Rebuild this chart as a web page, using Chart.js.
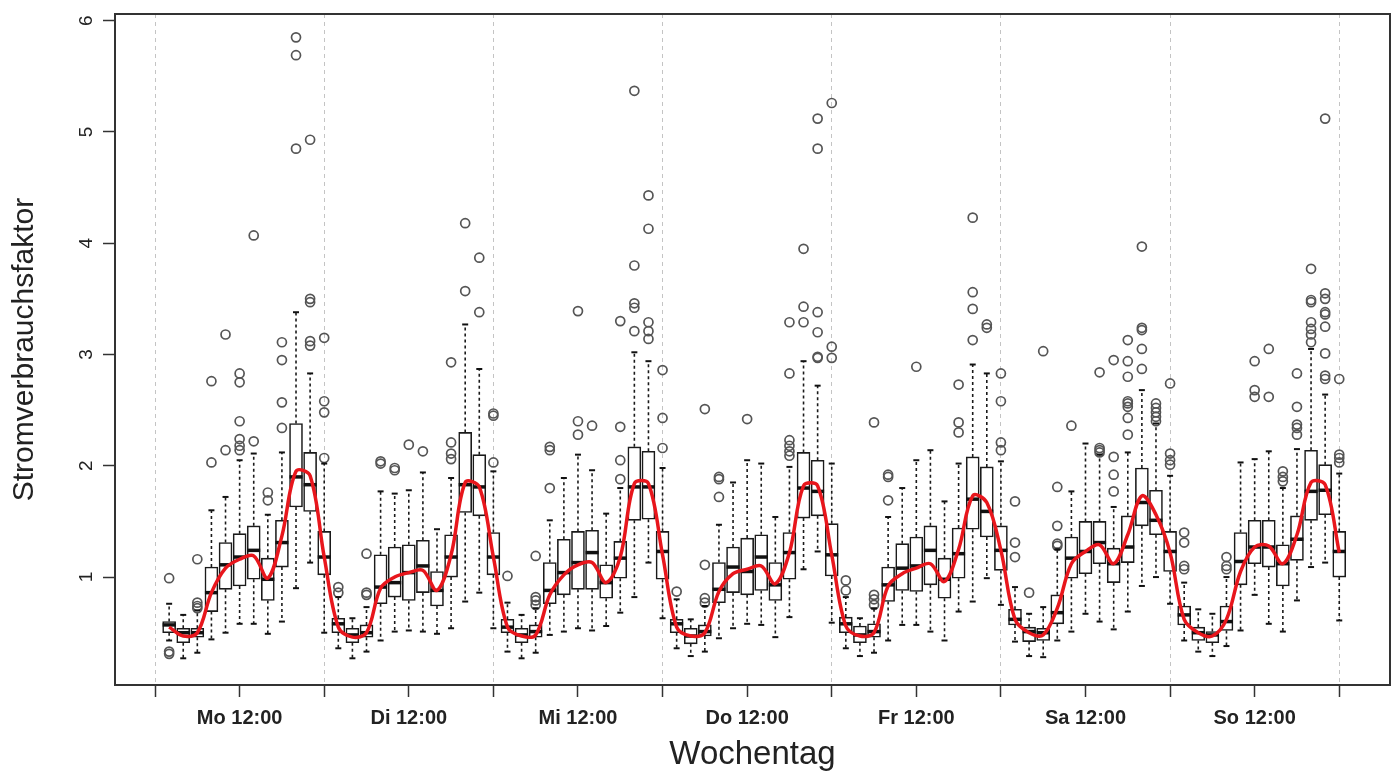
<!DOCTYPE html>
<html>
<head>
<meta charset="utf-8">
<title>Stromverbrauchsfaktor nach Wochentag</title>
<script src="https://cdn.jsdelivr.net/npm/chart.js@4.4.1/dist/chart.umd.min.js"></script>
<style>
  html, body { margin: 0; padding: 0; background: #fff; }
  #wrap { width: 1400px; height: 775px; }
</style>
</head>
<body>
<div id="wrap"><canvas id="boxChart" width="1400" height="775"></canvas></div>
<script>
// days of the week, 12 two-hour slots per day
const dayNames = ['Mo', 'Di', 'Mi', 'Do', 'Fr', 'Sa', 'So'];
const slotHours = [2, 4, 6, 8, 10, 12, 14, 16, 18, 20, 22, 24];
const xTickValues = [0, 12, 24, 36, 48, 60, 72, 84, 96, 108, 120, 132, 144, 156, 168];
const noonLabels = ['Mo 12:00', 'Di 12:00', 'Mi 12:00', 'Do 12:00', 'Fr 12:00', 'Sa 12:00', 'So 12:00'];
const yTickValues = [1, 2, 3, 4, 5, 6];

// one row per day, one value per slot
const lowerWhisker = [
    [0.43, 0.27, 0.32, 0.44, 0.50, 0.58, 0.58, 0.49, 0.60, 0.90, 1.13, 0.50],
    [0.36, 0.27, 0.33, 0.43, 0.51, 0.52, 0.51, 0.49, 0.54, 0.78, 0.86, 0.54],
    [0.33, 0.27, 0.32, 0.48, 0.51, 0.54, 0.52, 0.56, 0.68, 0.82, 1.13, 0.63],
    [0.36, 0.29, 0.33, 0.45, 0.54, 0.58, 0.57, 0.46, 0.64, 1.07, 1.23, 0.59],
    [0.36, 0.29, 0.32, 0.43, 0.57, 0.57, 0.51, 0.43, 0.69, 0.78, 0.99, 0.75],
    [0.42, 0.29, 0.28, 0.43, 0.51, 0.67, 0.60, 0.53, 0.69, 0.92, 1.00, 0.76],
    [0.43, 0.33, 0.29, 0.38, 0.52, 0.84, 0.58, 0.51, 0.79, 1.09, 1.13, 0.61]
];
const quartile1 = [
    [0.50, 0.41, 0.46, 0.69, 0.89, 0.92, 0.98, 0.79, 1.09, 1.63, 1.59, 1.02],
    [0.50, 0.41, 0.46, 0.76, 0.82, 0.79, 0.86, 0.74, 1.00, 1.58, 1.55, 1.02],
    [0.50, 0.41, 0.46, 0.76, 0.84, 0.89, 0.89, 0.81, 0.99, 1.51, 1.52, 0.98],
    [0.50, 0.40, 0.47, 0.77, 0.86, 0.84, 0.88, 0.79, 0.98, 1.53, 1.55, 1.01],
    [0.50, 0.41, 0.46, 0.78, 0.88, 0.87, 0.93, 0.81, 0.99, 1.43, 1.36, 1.06],
    [0.57, 0.42, 0.43, 0.58, 0.99, 1.03, 1.12, 0.95, 1.13, 1.46, 1.38, 1.05],
    [0.57, 0.43, 0.41, 0.52, 0.93, 1.12, 1.09, 0.92, 1.15, 1.51, 1.56, 1.00]
];
const medians = [
    [0.57, 0.50, 0.50, 0.86, 1.11, 1.18, 1.24, 0.98, 1.31, 1.90, 1.83, 1.18],
    [0.58, 0.48, 0.50, 0.91, 0.95, 1.04, 1.10, 0.88, 1.18, 1.83, 1.81, 1.18],
    [0.55, 0.48, 0.51, 0.88, 1.04, 1.13, 1.22, 0.95, 1.17, 1.81, 1.81, 1.23],
    [0.58, 0.47, 0.51, 0.89, 1.09, 1.05, 1.18, 0.93, 1.22, 1.80, 1.77, 1.20],
    [0.58, 0.48, 0.51, 0.93, 1.08, 1.10, 1.24, 0.98, 1.21, 1.70, 1.59, 1.24],
    [0.62, 0.51, 0.50, 0.68, 1.17, 1.23, 1.31, 1.12, 1.27, 1.67, 1.51, 1.23],
    [0.66, 0.50, 0.48, 0.60, 1.14, 1.27, 1.27, 1.12, 1.34, 1.77, 1.78, 1.23]
];
const quartile3 = [
    [0.60, 0.54, 0.54, 1.09, 1.31, 1.39, 1.46, 1.17, 1.51, 2.38, 2.12, 1.41],
    [0.63, 0.54, 0.57, 1.20, 1.27, 1.29, 1.33, 1.05, 1.38, 2.30, 2.10, 1.40],
    [0.62, 0.54, 0.57, 1.13, 1.34, 1.41, 1.42, 1.11, 1.32, 2.17, 2.13, 1.41],
    [0.62, 0.54, 0.57, 1.13, 1.27, 1.35, 1.38, 1.13, 1.40, 2.12, 2.05, 1.48],
    [0.64, 0.56, 0.58, 1.09, 1.30, 1.36, 1.46, 1.17, 1.44, 2.08, 1.99, 1.46],
    [0.71, 0.55, 0.54, 0.84, 1.36, 1.50, 1.50, 1.26, 1.55, 1.98, 1.78, 1.41],
    [0.74, 0.55, 0.51, 0.74, 1.40, 1.51, 1.51, 1.29, 1.55, 2.14, 2.01, 1.41]
];
const upperWhisker = [
    [0.76, 0.66, 0.70, 1.60, 1.72, 2.05, 2.11, 1.56, 2.12, 3.38, 2.83, 2.02],
    [0.82, 0.63, 0.73, 1.77, 1.75, 1.78, 1.94, 1.43, 1.89, 3.27, 2.87, 1.95],
    [0.77, 0.66, 0.72, 1.51, 1.89, 2.10, 1.96, 1.57, 1.80, 3.02, 2.94, 1.98],
    [0.80, 0.62, 0.74, 1.47, 1.85, 2.05, 2.02, 1.54, 1.99, 2.94, 2.72, 2.02],
    [0.82, 0.63, 0.72, 1.54, 1.80, 2.05, 2.14, 1.68, 2.02, 2.91, 2.83, 2.04],
    [0.91, 0.67, 0.73, 1.25, 1.77, 2.20, 2.10, 1.63, 2.12, 2.68, 2.38, 1.91],
    [0.95, 0.71, 0.67, 1.00, 2.03, 2.06, 2.13, 1.80, 2.15, 3.05, 2.64, 1.93]
];
// red smoothed mean curve
const meanLine = [
    [0.55, 0.47, 0.50, 0.86, 1.08, 1.16, 1.19, 0.99, 1.37, 1.95, 1.91, 1.18],
    [0.55, 0.46, 0.50, 0.90, 1.00, 1.04, 1.06, 0.88, 1.20, 1.85, 1.81, 1.18],
    [0.55, 0.47, 0.48, 0.84, 1.02, 1.11, 1.13, 0.95, 1.18, 1.84, 1.84, 1.20],
    [0.55, 0.47, 0.50, 0.87, 1.03, 1.07, 1.10, 0.94, 1.22, 1.82, 1.82, 1.20],
    [0.56, 0.47, 0.50, 0.92, 1.03, 1.08, 1.12, 0.96, 1.25, 1.73, 1.67, 1.24],
    [0.62, 0.50, 0.48, 0.72, 1.12, 1.23, 1.29, 1.12, 1.38, 1.73, 1.56, 1.22],
    [0.62, 0.50, 0.47, 0.62, 1.05, 1.27, 1.28, 1.12, 1.38, 1.85, 1.83, 1.22]
];
const outliers = [
    [[0.99, 0.33, 0.31], [], [0.72, 0.74, 0.77, 1.16], [2.03, 2.76], [2.14, 3.18],
     [2.14, 2.18, 2.24, 2.40, 2.75, 2.83], [2.22, 4.07], [1.69, 1.76], [2.34, 2.57, 2.95, 3.11],
     [4.85, 5.69, 5.85], [3.08, 3.12, 3.47, 3.50, 4.93], [2.07, 2.48, 2.58, 3.15]],
    [[0.86, 0.91], [], [0.84, 0.86, 1.21], [2.02, 2.04], [1.96, 1.98], [2.19], [2.13], [],
     [2.06, 2.11, 2.21, 2.93], [3.57, 4.18], [3.38, 3.87], [2.03, 2.45, 2.47]],
    [[1.01], [], [0.75, 0.79, 0.82, 1.19], [1.80, 2.14, 2.17], [], [2.28, 2.40, 3.39], [2.36], [],
     [1.88, 2.05, 2.35, 3.30], [3.21, 3.42, 3.46, 3.80, 5.37], [3.14, 3.21, 3.29, 4.13, 4.43],
     [2.16, 2.43, 2.86]],
    [[0.87], [], [0.77, 0.81, 1.11, 2.51], [1.72, 1.88, 1.90], [], [2.42], [], [],
     [2.09, 2.13, 2.18, 2.23, 2.83, 3.29], [3.29, 3.43, 3.95], [2.97, 2.98, 3.20, 3.38, 4.85, 5.12],
     [2.97, 3.07, 5.26]],
    [[0.88, 0.97], [], [0.75, 0.80, 0.84, 2.39], [1.69, 1.90, 1.92], [], [2.89], [], [],
     [2.30, 2.39, 2.73], [3.13, 3.41, 3.56, 4.23], [3.24, 3.27], [2.14, 2.21, 2.58, 2.83]],
    [[1.18, 1.31, 1.68], [0.86], [3.03], [1.28, 1.30, 1.46, 1.81], [2.36], [],
     [2.12, 2.14, 2.16, 2.84], [1.77, 1.92, 2.08, 2.95], [2.28, 2.43, 2.53, 2.56, 2.58, 2.80, 2.94, 3.13],
     [2.87, 3.05, 3.22, 3.24, 3.97], [2.40, 2.44, 2.48, 2.52, 2.56], [2.01, 2.05, 2.11, 2.74]],
    [[1.07, 1.10, 1.31, 1.40], [], [], [1.07, 1.10, 1.18], [], [2.62, 2.68, 2.94], [2.62, 3.05],
     [1.86, 1.90, 1.95], [2.28, 2.34, 2.37, 2.53, 2.83], [3.11, 3.18, 3.23, 3.29, 3.47, 3.49, 3.77],
     [2.78, 2.81, 3.01, 3.25, 3.36, 3.38, 3.50, 3.55, 5.12], [2.03, 2.07, 2.10, 2.78]]
];

document.addEventListener('DOMContentLoaded', function() {
    Chart.defaults.font.family = "'Liberation Sans', Arial, sans-serif";
    Chart.defaults.color = '#222';

    // x position (hours since Monday 00:00) of every box
    const positions = [];
    dayNames.forEach((d, di) => slotHours.forEach(h => positions.push(di * 24 + h)));

    const low = lowerWhisker.flat();
    const q1 = quartile1.flat();
    const med = medians.flat();
    const q3 = quartile3.flat();
    const up = upperWhisker.flat();
    const mean = meanLine.flat();
    const outl = outliers.flat();

    const boxData = positions.map((x, i) => ({ x: x, y: [q1[i], q3[i]] }));
    const medianData = positions.map((x, i) => ({ x: x, y: med[i] }));
    const meanData = positions.map((x, i) => ({ x: x, y: mean[i] }));

    const whiskerData = [];
    const capData = [];
    positions.forEach((x, i) => {
        whiskerData.push({ x: x, y: q3[i] }, { x: x, y: up[i] }, { x: x, y: null });
        whiskerData.push({ x: x, y: q1[i] }, { x: x, y: low[i] }, { x: x, y: null });
        capData.push({ x: x, y: up[i] }, { x: x, y: low[i] });
    });

    const outlierData = [];
    positions.forEach((x, i) => {
        outl[i].forEach(v => outlierData.push({ x: x, y: v }));
    });

    const framePlugin = {
        id: 'frame',
        afterDatasetsDraw(chart) {
            const { ctx, chartArea: a } = chart;
            ctx.save();
            ctx.strokeStyle = '#333';
            ctx.lineWidth = 2;
            ctx.strokeRect(a.left, a.top, a.right - a.left, a.bottom - a.top);
            ctx.restore();
        }
    };

    const ctx = document.getElementById('boxChart').getContext('2d');
    new Chart(ctx, {
        type: 'bar',
        data: {
            datasets: [
                {
                    type: 'line',
                    data: meanData,
                    borderColor: '#e8161c',
                    borderWidth: 3.5,
                    tension: 0.35,
                    pointRadius: 0,
                    order: 0
                },
                {
                    type: 'scatter',
                    data: medianData,
                    pointStyle: 'line',
                    pointRadius: 6.5,
                    borderColor: '#111',
                    borderWidth: 3.5,
                    order: 1
                },
                {
                    type: 'bar',
                    data: boxData,
                    backgroundColor: '#fff',
                    borderColor: '#1a1a1a',
                    borderWidth: 1.6,
                    borderSkipped: false,
                    barThickness: 13,
                    order: 2
                },
                {
                    type: 'scatter',
                    data: capData,
                    pointStyle: 'line',
                    pointRadius: 3,
                    borderColor: '#111',
                    borderWidth: 2,
                    order: 3
                },
                {
                    type: 'line',
                    data: whiskerData,
                    borderColor: '#1a1a1a',
                    borderWidth: 1.6,
                    borderDash: [3, 3],
                    pointRadius: 0,
                    spanGaps: false,
                    tension: 0,
                    order: 4
                },
                {
                    type: 'scatter',
                    data: outlierData,
                    pointStyle: 'circle',
                    pointRadius: 4.5,
                    borderColor: '#555',
                    backgroundColor: 'rgba(0,0,0,0)',
                    borderWidth: 1.7,
                    order: 5
                }
            ]
        },
        options: {
            responsive: false,
            animation: false,
            devicePixelRatio: 1,
            layout: { padding: { top: 14, right: 10, left: 0, bottom: 0 } },
            plugins: {
                legend: { display: false },
                tooltip: { enabled: false }
            },
            scales: {
                x: {
                    type: 'linear',
                    min: -5.68,
                    max: 175.2,
                    offset: false,
                    afterBuildTicks: s => { s.ticks = xTickValues.map(v => ({ value: v })); },
                    afterFit: s => { s.height = 90; s.paddingLeft = 0; s.paddingRight = 0; },
                    ticks: {
                        autoSkip: false,
                        maxRotation: 0,
                        padding: 9,
                        font: { size: 20, weight: 'bold' },
                        color: '#222',
                        callback: v => (v % 24 === 12 ? noonLabels[Math.floor(v / 24)] : '')
                    },
                    grid: {
                        offset: false,
                        color: c => (c.tick && c.tick.value % 24 === 0 ? '#c4c4c4' : 'rgba(0,0,0,0)'),
                        lineWidth: 1,
                        tickColor: '#333',
                        tickWidth: 1.5,
                        tickLength: 12
                    },
                    border: { display: false, dash: [4, 4] },
                    title: {
                        display: true,
                        text: 'Wochentag',
                        font: { size: 33 },
                        color: '#222',
                        padding: { top: 0, bottom: 0 }
                    }
                },
                y: {
                    type: 'linear',
                    min: 0.03,
                    max: 6.06,
                    afterBuildTicks: s => { s.ticks = yTickValues.map(v => ({ value: v })); },
                    afterFit: s => { s.width = 115; s.paddingTop = 0; s.paddingBottom = 0; },
                    ticks: {
                        minRotation: 90,
                        maxRotation: 90,
                        crossAlign: 'center',
                        padding: 11,
                        font: { size: 19 },
                        color: '#222'
                    },
                    grid: {
                        drawOnChartArea: false,
                        tickColor: '#333',
                        tickWidth: 1.5,
                        tickLength: 12
                    },
                    border: { display: false },
                    title: {
                        display: true,
                        text: 'Stromverbrauchsfaktor',
                        font: { size: 30 },
                        color: '#222',
                        padding: { top: 7, bottom: 0 }
                    }
                }
            }
        },
        plugins: [framePlugin]
    });
});
</script>
</body>
</html>
